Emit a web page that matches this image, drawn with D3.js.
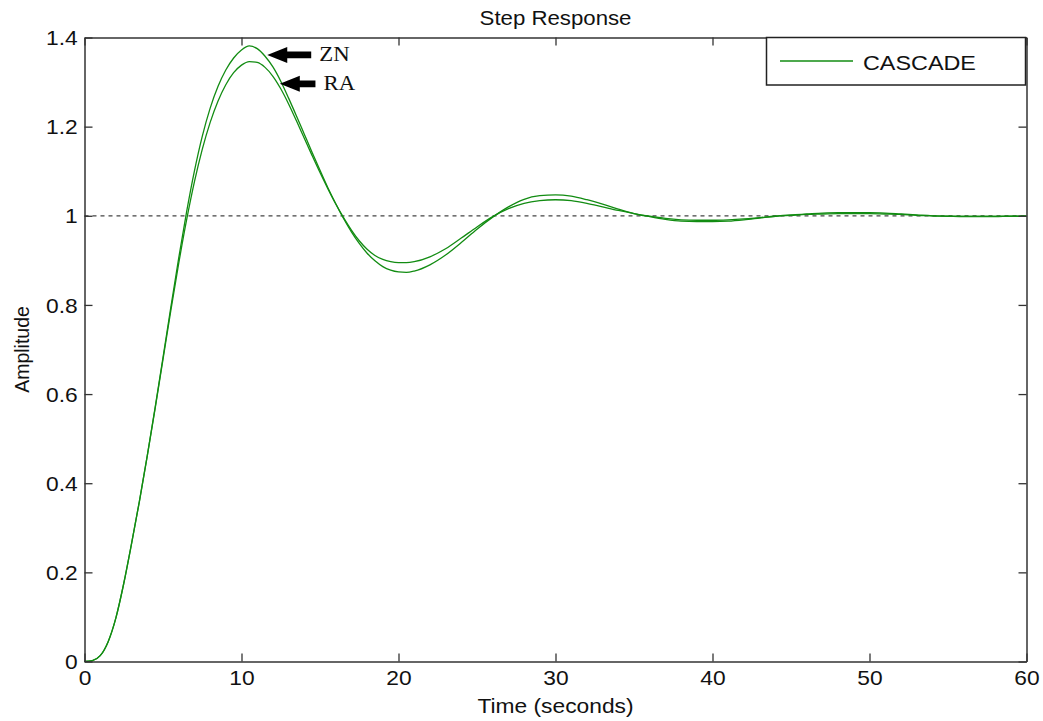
<!DOCTYPE html>
<html>
<head>
<meta charset="utf-8">
<script src="https://cdn.jsdelivr.net/npm/d3@7/dist/d3.min.js"></script>
<style>
  html, body { margin: 0; padding: 0; background: #fff; }
  svg { display: block; }
</style>
</head>
<body>
<svg id="chart" width="1043" height="721"></svg>
<script>
// ---- Data ----
const time = [0,0.5,1,1.5,2,2.5,3,3.5,4,4.5,5,5.5,6,6.5,7,7.5,8,8.5,9,9.5,10,10.5,11,11.5,12,12.5,13,13.5,14,14.5,15,15.5,16,16.5,17,17.5,18,18.5,19,19.5,20,20.5,21,22,23,24,25,26,27,28,29,30,31,32,33,34,35,36,37,38,39,40,41,42,43,44,45,46,47,48,49,50,51,52,53,54,55,56,57,58,59,60];
const znValues = [0,0.002,0.013,0.044,0.098,0.175,0.265,0.36,0.462,0.57,0.682,0.795,0.905,1.008,1.1,1.178,1.241,1.29,1.327,1.354,1.372,1.381,1.375,1.358,1.334,1.302,1.264,1.224,1.183,1.142,1.102,1.063,1.027,0.994,0.964,0.938,0.916,0.899,0.886,0.878,0.874,0.873,0.876,0.89,0.912,0.94,0.97,0.997,1.02,1.037,1.045,1.047,1.044,1.036,1.026,1.015,1.005,0.998,0.992,0.988,0.987,0.987,0.988,0.991,0.995,0.999,1.002,1.004,1.006,1.007,1.007,1.007,1.006,1.004,1.002,1.000,0.999,0.998,0.998,0.998,0.999,0.999];
const raValues = [0,0.002,0.013,0.044,0.098,0.175,0.265,0.36,0.462,0.568,0.678,0.788,0.893,0.99,1.076,1.149,1.209,1.257,1.294,1.321,1.338,1.346,1.344,1.333,1.313,1.285,1.251,1.213,1.174,1.135,1.097,1.061,1.027,0.996,0.968,0.944,0.925,0.911,0.902,0.897,0.895,0.895,0.897,0.908,0.926,0.95,0.975,0.998,1.016,1.028,1.034,1.036,1.034,1.028,1.02,1.012,1.005,0.999,0.994,0.991,0.99,0.99,0.991,0.993,0.996,0.999,1.001,1.003,1.004,1.005,1.005,1.005,1.004,1.003,1.001,1.0,0.999,0.999,0.999,0.999,0.999,1.0];
const xTicks = [0,10,20,30,40,50,60];
const yTicks = [0,0.2,0.4,0.6,0.8,1,1.2,1.4];
const referenceLevel = 1;
const legendLabel = "CASCADE";
const annotationLabels = ["ZN","RA"];
const annotationTips = [[11.64,1.361],[12.44,1.296]];
const annotationTails = [[14.44,1.361],[14.71,1.296]];
const titleText = "Step Response";
const xLabel = "Time (seconds)";
const yLabel = "Amplitude";

// ---- Layout ----
const pLeft = 84.5, pRight = 1026.5, pTop = 37.5, pBottom = 661.5;
const SX = 1.14; // horizontal text stretch seen in the reference
const sansFont = "'Liberation Sans', Arial, sans-serif";
const serifFont = "'Liberation Serif', 'Times New Roman', serif";
const svg = d3.select("#chart");
const x = d3.scaleLinear().domain([0,60]).range([pLeft,pRight]);
const y = d3.scaleLinear().domain([0,1.4]).range([pBottom,pTop]);
const axisColor = "#333";
const lineColor = "#128c12";

function addText(px, py, str, size, anchor, family) {
  return svg.append("text")
    .attr("transform", `translate(${px},${py}) scale(${SX},1)`)
    .attr("text-anchor", anchor || "start")
    .style("font-family", family || sansFont)
    .style("font-size", size + "px")
    .style("fill", "#111")
    .text(str);
}

// reference dashed line
svg.append("line")
  .attr("x1", x(0)).attr("x2", x(60))
  .attr("y1", y(referenceLevel)).attr("y2", y(referenceLevel))
  .attr("stroke", "#444").attr("stroke-width", 1.2)
  .attr("stroke-dasharray", "4,4");

// curves
const line = d3.line().x(d => x(d[0])).y(d => y(d[1])).curve(d3.curveMonotoneX);
[znValues, raValues].forEach(vals => {
  svg.append("path")
    .datum(time.map((t,i) => [t, vals[i]]))
    .attr("d", line)
    .attr("fill", "none")
    .attr("stroke", lineColor)
    .attr("stroke-width", 1.3);
});

// axes (ticks inside, mirrored)
const tickLen = 8;
const fmt = d => d3.format("~g")(d);
const gB = svg.append("g").attr("transform", `translate(0,${pBottom})`)
  .call(d3.axisBottom(x).tickValues(xTicks).tickSizeInner(-tickLen).tickSizeOuter(0).tickPadding(9).tickFormat(fmt));
const gT = svg.append("g").attr("transform", `translate(0,${pTop})`)
  .call(d3.axisTop(x).tickValues(xTicks).tickSizeInner(-tickLen).tickSizeOuter(0).tickFormat(""));
const gL = svg.append("g").attr("transform", `translate(${pLeft},0)`)
  .call(d3.axisLeft(y).tickValues(yTicks).tickSizeInner(-tickLen).tickSizeOuter(0).tickPadding(6).tickFormat(fmt));
const gR = svg.append("g").attr("transform", `translate(${pRight},0)`)
  .call(d3.axisRight(y).tickValues(yTicks).tickSizeInner(-tickLen).tickSizeOuter(0).tickFormat(""));
[gB,gT,gL,gR].forEach(g => {
  g.select(".domain").attr("stroke", axisColor).attr("stroke-width", 1.5);
  g.selectAll(".tick line").attr("stroke", axisColor).attr("stroke-width", 1.3);
  g.selectAll(".tick text")
    .style("font-family", sansFont).style("font-size", "20px").style("fill", "#111")
    .attr("transform", `scale(${SX},1)`);
});
gB.selectAll(".tick text").attr("dy", "0.71em");
gL.selectAll(".tick text").attr("dy", "0.36em");

// titles
addText((pLeft+pRight)/2, 25, titleText, 19.5, "middle");
addText((pLeft+pRight)/2, 713, xLabel, 20, "middle");
svg.append("text")
  .attr("transform", `translate(29,${(pTop+pBottom)/2}) rotate(-90)`)
  .attr("text-anchor", "middle")
  .style("font-family", sansFont).style("font-size", "19.5px").style("fill", "#111")
  .text(yLabel);

// legend
const lg = svg.append("g");
lg.append("rect").attr("x", 766.5).attr("y", 37.5).attr("width", 259).attr("height", 47.5)
  .attr("fill", "#fff").attr("stroke", "#222").attr("stroke-width", 1.5);
lg.append("line").attr("x1", 780).attr("x2", 853).attr("y1", 61).attr("y2", 61)
  .attr("stroke", lineColor).attr("stroke-width", 1.4);
addText(863, 69.5, legendLabel, 20.5, "start");

// annotations: arrows pointing to curves
annotationTips.forEach((p, i) => {
  const tx = x(p[0]), ty = y(p[1]);
  const ex = x(annotationTails[i][0]);
  const L = ex - tx, head = 20, hh = 8, sh = 3.4;
  svg.append("path")
    .attr("transform", `translate(${tx},${ty})`)
    .attr("d", `M0,0 L${head},${-hh} L${head},${-sh} L${L},${-sh} L${L},${sh} L${head},${sh} L${head},${hh} Z`)
    .attr("fill", "#000");
  addText(ex + 8, ty + 6, annotationLabels[i], 20, "start", serifFont);
});
</script>
</body>
</html>
